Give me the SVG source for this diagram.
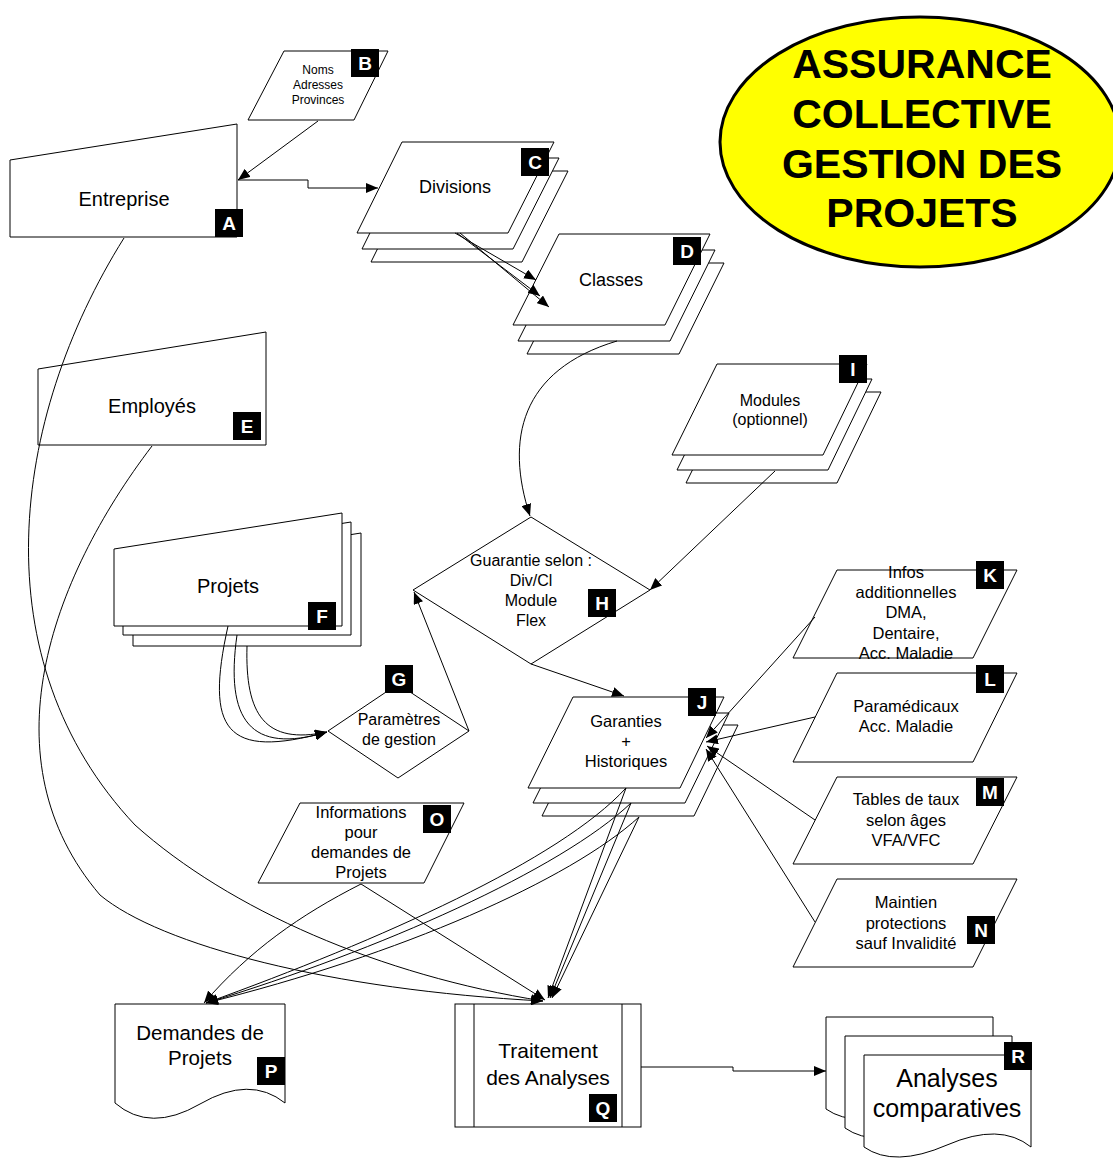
<svg xmlns="http://www.w3.org/2000/svg" width="1113" height="1159" viewBox="0 0 1113 1159">
<defs>
<marker id="ah" markerUnits="userSpaceOnUse" markerWidth="13" markerHeight="10" refX="12" refY="5" orient="auto">
<path d="M0,0 L12,5 L0,10 z" fill="#000"/>
</marker>
<style>
.s{fill:#fff;stroke:#000;stroke-width:1}
.t{font-family:"Liberation Sans",Arial,sans-serif;fill:#000;text-anchor:middle}
.lb{fill:#000}
.lt{font-family:"Liberation Sans",Arial,sans-serif;font-weight:bold;font-size:19px;fill:#fff;text-anchor:middle}
.c{fill:none;stroke:#000;stroke-width:1;marker-end:url(#ah)}
.cn{fill:none;stroke:#000;stroke-width:1}
</style>
</defs>
<rect width="1113" height="1159" fill="#fff"/>

<g id="title">
<ellipse cx="920" cy="142" rx="200" ry="125" fill="#ffff00" stroke="#000" stroke-width="3"/>
<text class="t" font-size="41" font-weight="bold" x="922" y="78">ASSURANCE</text>
<text class="t" font-size="41" font-weight="bold" x="922" y="128">COLLECTIVE</text>
<text class="t" font-size="41" font-weight="bold" x="922" y="178">GESTION DES</text>
<text class="t" font-size="41" font-weight="bold" x="922" y="227">PROJETS</text>
</g>

<g id="nodeA">
<path class="s" d="M10,160 L237,124 L237,237 L10,237 Z"/>
<text class="t" font-size="20" x="124" y="206">Entreprise</text>
<rect class="lb" x="215" y="209" width="28" height="28"/><text class="lt" x="229" y="230">A</text>
</g>

<g id="nodeB">
<path class="s" d="M284,51 L388,51 L354,120 L248,120 Z"/>
<text class="t" font-size="12" x="318" y="74">Noms</text>
<text class="t" font-size="12" x="318" y="89">Adresses</text>
<text class="t" font-size="12" x="318" y="104">Provinces</text>
<rect class="lb" x="351" y="49" width="28" height="28"/><text class="lt" x="365" y="70">B</text>
</g>

<g id="nodeC">
<path class="s" d="M416,171 L568,171 L522,262 L371,262 Z"/>
<path class="s" d="M407,158 L559,158 L513,249 L362,249 Z"/>
<path class="s" d="M402,142 L554,142 L508,233 L357,233 Z"/>
<text class="t" font-size="18" x="455" y="193">Divisions</text>
<rect class="lb" x="521" y="148" width="28" height="28"/><text class="lt" x="535" y="169">C</text>
</g>

<g id="nodeD">
<path class="s" d="M573,263 L724,263 L679,354 L527,354 Z"/>
<path class="s" d="M564,250 L715,250 L670,341 L518,341 Z"/>
<path class="s" d="M559,234 L710,234 L665,325 L513,325 Z"/>
<text class="t" font-size="18" x="611" y="286">Classes</text>
<rect class="lb" x="673" y="237" width="28" height="28"/><text class="lt" x="687" y="258">D</text>
</g>

<g id="nodeE">
<path class="s" d="M38,369 L266,332 L266,445 L38,445 Z"/>
<text class="t" font-size="20" x="152" y="413">Employés</text>
<rect class="lb" x="233" y="412" width="28" height="28"/><text class="lt" x="247" y="433">E</text>
</g>

<g id="nodeF">
<path class="s" d="M133,569 L361,533 L361,646 L133,646 Z"/>
<path class="s" d="M123,558 L351,522 L351,635 L123,635 Z"/>
<path class="s" d="M114,549 L342,513 L342,626 L114,626 Z"/>
<text class="t" font-size="20" x="228" y="593">Projets</text>
<rect class="lb" x="308" y="602" width="28" height="28"/><text class="lt" x="322" y="623">F</text>
</g>

<g id="nodeG">
<path class="s" d="M398,684 L469,731 L398,778 L328,731 Z"/>
<text class="t" font-size="16" x="399" y="725">Paramètres</text>
<text class="t" font-size="16" x="399" y="745">de gestion</text>
<rect class="lb" x="385" y="665" width="28" height="28"/><text class="lt" x="399" y="686">G</text>
</g>

<g id="nodeH">
<path class="s" d="M531,517 L650,590 L531,664 L413,590 Z"/>
<text class="t" font-size="16" x="531" y="566">Guarantie selon :</text>
<text class="t" font-size="16" x="531" y="586">Div/Cl</text>
<text class="t" font-size="16" x="531" y="606">Module</text>
<text class="t" font-size="16" x="531" y="626">Flex</text>
<rect class="lb" x="588" y="589" width="28" height="28"/><text class="lt" x="602" y="610">H</text>
</g>

<g id="nodeI">
<path class="s" d="M731,392 L881,392 L837,483 L686,483 Z"/>
<path class="s" d="M722,379 L872,379 L828,470 L677,470 Z"/>
<path class="s" d="M717,364 L867,364 L823,455 L672,455 Z"/>
<text class="t" font-size="16" x="770" y="406">Modules</text>
<text class="t" font-size="16" x="770" y="425">(optionnel)</text>
<rect class="lb" x="839" y="355" width="28" height="28"/><text class="lt" x="853" y="376">I</text>
</g>

<g id="nodeJ">
<path class="s" d="M587,725 L738,725 L694,816 L542,816 Z"/>
<path class="s" d="M578,713 L729,713 L685,803 L533,803 Z"/>
<path class="s" d="M573,697 L724,697 L680,788 L528,788 Z"/>
<text class="t" font-size="16.5" x="626" y="727">Garanties</text>
<text class="t" font-size="16.5" x="626" y="747">+</text>
<text class="t" font-size="16.5" x="626" y="767">Historiques</text>
<rect class="lb" x="688" y="688" width="28" height="28"/><text class="lt" x="702" y="709">J</text>
</g>

<g id="nodeK">
<path class="s" d="M837,570 L1017,570 L973,658 L793,658 Z"/>
<text class="t" font-size="16.5" x="906" y="578">Infos</text>
<text class="t" font-size="16.5" x="906" y="598">additionnelles</text>
<text class="t" font-size="16.5" x="906" y="618">DMA,</text>
<text class="t" font-size="16.5" x="906" y="639">Dentaire,</text>
<text class="t" font-size="16.5" x="906" y="659">Acc. Maladie</text>
<rect class="lb" x="976" y="561" width="28" height="28"/><text class="lt" x="990" y="582">K</text>
</g>

<g id="nodeL">
<path class="s" d="M837,673 L1017,673 L973,762 L793,762 Z"/>
<text class="t" font-size="16.5" x="906" y="712">Paramédicaux</text>
<text class="t" font-size="16.5" x="906" y="732">Acc. Maladie</text>
<rect class="lb" x="976" y="665" width="28" height="28"/><text class="lt" x="990" y="686">L</text>
</g>

<g id="nodeM">
<path class="s" d="M837,777 L1017,777 L973,864 L793,864 Z"/>
<text class="t" font-size="16.5" x="906" y="805">Tables de taux</text>
<text class="t" font-size="16.5" x="906" y="826">selon âges</text>
<text class="t" font-size="16.5" x="906" y="846">VFA/VFC</text>
<rect class="lb" x="976" y="778" width="28" height="28"/><text class="lt" x="990" y="799">M</text>
</g>

<g id="nodeN">
<path class="s" d="M837,879 L1017,879 L973,967 L793,967 Z"/>
<text class="t" font-size="16.5" x="906" y="908">Maintien</text>
<text class="t" font-size="16.5" x="906" y="929">protections</text>
<text class="t" font-size="16.5" x="906" y="949">sauf Invalidité</text>
<rect class="lb" x="967" y="916" width="28" height="28"/><text class="lt" x="981" y="937">N</text>
</g>

<g id="nodeO">
<path class="s" d="M300,803 L464,803 L424,883 L258,883 Z"/>
<text class="t" font-size="16.5" x="361" y="818">Informations</text>
<text class="t" font-size="16.5" x="361" y="838">pour</text>
<text class="t" font-size="16.5" x="361" y="858">demandes de</text>
<text class="t" font-size="16.5" x="361" y="878">Projets</text>
<rect class="lb" x="423" y="805" width="28" height="28"/><text class="lt" x="437" y="826">O</text>
</g>

<g id="nodeP">
<path class="s" d="M115,1004 L285,1004 L285,1103 Q250,1075 200,1104 T115,1103 Z"/>
<text class="t" font-size="20.5" x="200" y="1040">Demandes de</text>
<text class="t" font-size="20.5" x="200" y="1065">Projets</text>
<rect class="lb" x="257" y="1057" width="28" height="28"/><text class="lt" x="271" y="1078">P</text>
</g>

<g id="nodeQ">
<rect class="s" x="455" y="1004" width="186" height="123"/>
<line class="cn" x1="474" y1="1004" x2="474" y2="1127"/>
<line class="cn" x1="622" y1="1004" x2="622" y2="1127"/>
<text class="t" font-size="21" x="548" y="1058">Traitement</text>
<text class="t" font-size="21" x="548" y="1085">des Analyses</text>
<rect class="lb" x="589" y="1094" width="28" height="28"/><text class="lt" x="603" y="1115">Q</text>
</g>

<g id="nodeR">
<path class="s" d="M826,1017 L993,1017 L993,1109 Q962,1084 909,1107 T826,1109 Z"/>
<path class="s" d="M845,1036 L1012,1036 L1012,1128 Q981,1103 928,1126 T845,1128 Z"/>
<path class="s" d="M864,1055 L1031,1055 L1031,1147 Q1000,1122 947,1145 T864,1147 Z"/>
<text class="t" font-size="25" x="947" y="1087">Analyses</text>
<text class="t" font-size="25" x="947" y="1117">comparatives</text>
<rect class="lb" x="1004" y="1042" width="28" height="28"/><text class="lt" x="1018" y="1063">R</text>
</g>

<g id="connectors">
<path class="c" d="M318,121 L238,180"/>
<path class="c" d="M238,180 L308,180 L308,188 L378,188"/>
<path class="c" d="M455,233 L536,280"/>
<path class="c" d="M457,233 L540,296"/>
<path class="c" d="M460,233 L549,307"/>
<path class="c" d="M617,341 C520,370 505,440 530,516"/>
<path class="c" d="M775,471 L650,590"/>
<path class="c" d="M531,664 L624,696"/>
<path class="c" d="M469,731 L414,592"/>
<path class="c" d="M228,626 C205,730 225,760 327,732"/>
<path class="c" d="M237,635 C225,720 250,755 327,732"/>
<path class="c" d="M247,646 C245,715 265,745 327,732"/>
<path class="c" d="M815,617 L706,738"/>
<path class="c" d="M815,717 L706,742"/>
<path class="c" d="M815,820 L707,746"/>
<path class="c" d="M815,922 L706,749"/>
<path class="c" d="M124,238 C10,420 -20,660 135,825 C230,910 380,975 543,1001"/>
<path class="c" d="M152,446 C50,580 -15,760 100,895 C160,945 330,990 543,1001"/>
<path class="c" d="M626,788 C560,860 380,940 206,1003"/>
<path class="c" d="M631,803 C560,870 380,950 206,1003"/>
<path class="c" d="M639,817 C570,880 400,955 206,1003"/>
<path class="c" d="M626,788 L548,998"/>
<path class="c" d="M631,803 L550,998"/>
<path class="c" d="M639,817 L552,998"/>
<path class="c" d="M361,884 C300,915 250,950 204,1003"/>
<path class="c" d="M361,884 L545,1000"/>
<path class="c" d="M641,1067 L733,1067 L733,1071 L826,1071"/>
</g>
</svg>
